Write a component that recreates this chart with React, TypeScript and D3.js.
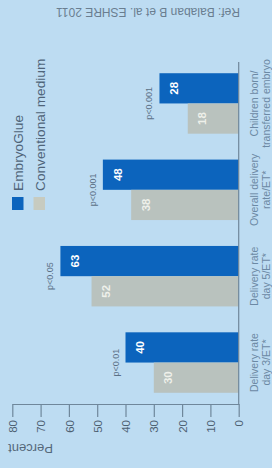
import React, { useEffect, useRef } from "react";
import * as d3 from "d3";

// chart values, bottom category first (the whole chart is turned on its side)
const categories = ["day3", "day5", "overall", "children"];
const categoryLines = [
  ["Delivery rate", "day 3/ET*"],
  ["Delivery rate", "day 5/ET*"],
  ["Overall delivery", "rate/ET*"],
  ["Children born/", "transferred embryo"],
];
const embryoGlue = [40, 63, 48, 28];
const conventional = [30, 52, 38, 18];
const pValues = ["p<0.01", "p<0.05", "p<0.001", "p<0.001"];
const tickValues = [0, 10, 20, 30, 40, 50, 60, 70, 80];
const seriesNames = ["EmbryoGlue", "Conventional medium"];

const FONT = "'Liberation Sans', Arial, sans-serif";

const App = () => {
  const svgRef = useRef<SVGSVGElement>(null);

  useEffect(() => {
    const width = 272,
      height = 468;
    const svg = d3.select(svgRef.current).attr("width", width).attr("height", height);
    svg.selectAll("*").remove();

    // light blue page
    svg.append("rect").attr("width", width).attr("height", height).attr("fill", "#bddcf2");

    // value axis runs right (0) to left (80)
    const x = d3.scaleLinear().domain([0, 80]).range([238.7, 12.3]);
    const y = d3.scaleBand().domain(categories).range([404, 62]).paddingInner(0.3).paddingOuter(0.13);
    const sub = d3.scaleBand().domain(["glue", "conv"]).range([0, y.bandwidth()]);

    const colors = { glue: "#0c64bd", conv: "#b9c2be" };

    const rows = categories.map((c, i) => ({
      cat: c,
      lines: categoryLines[i],
      p: pValues[i],
      values: [
        { key: "glue", v: embryoGlue[i] },
        { key: "conv", v: conventional[i] },
      ],
    }));

    // bars
    const groups = svg.selectAll(".cat").data(rows).join("g").attr("class", "cat")
      .attr("transform", d => `translate(0,${y(d.cat)})`);

    groups.selectAll("rect")
      .data(d => d.values)
      .join("rect")
      .attr("x", d => x(d.v))
      .attr("y", d => sub(d.key)!)
      .attr("width", d => x(0) - x(d.v))
      .attr("height", sub.bandwidth())
      .attr("fill", d => colors[d.key as "glue" | "conv"]);

    // numbers inside the bars
    groups.selectAll("text.val")
      .data(d => d.values)
      .join("text")
      .attr("class", "val")
      .attr("transform", d => `translate(${x(d.v) + 14.5},${sub(d.key)! + sub.bandwidth() / 2}) rotate(-90)`)
      .attr("text-anchor", "middle")
      .attr("dy", "0.36em")
      .attr("font-family", FONT)
      .attr("font-weight", "bold")
      .attr("font-size", 11.5)
      .attr("fill", d => (d.key === "glue" ? "#ffffff" : "#eef0ea"))
      .text(d => d.v);

    // p values above the EmbryoGlue bar
    groups.append("text")
      .attr("transform", d => `translate(${x(d.values[0].v) - 7},${y.bandwidth() / 2}) rotate(-90)`)
      .attr("text-anchor", "middle")
      .attr("font-family", FONT)
      .attr("font-size", 9)
      .attr("fill", "#5b7086")
      .text(d => d.p);

    // category labels, two lines each
    groups.each(function (d) {
      const g = d3.select(this);
      d.lines.forEach((line, j) => {
        g.append("text")
          .attr("transform", `translate(${257.5 + j * 12},${y.bandwidth() / 2}) rotate(-90)`)
          .attr("text-anchor", "middle")
          .attr("font-family", FONT)
          .attr("font-size", 10.5)
          .attr("fill", "#6c89a4")
          .text(line);
      });
    });

    // value axis along the bottom
    const axis = svg.append("g")
      .attr("transform", "translate(0,404)")
      .call(d3.axisBottom(x).tickValues(tickValues).tickSize(13).tickSizeOuter(0));
    axis.select(".domain").attr("stroke", "#6f879b").attr("stroke-width", 1.2);
    axis.selectAll(".tick line").attr("stroke", "#6f879b").attr("stroke-width", 1.2);
    axis.selectAll(".tick text")
      .attr("transform", "translate(0,16) rotate(-90)")
      .attr("y", 0)
      .attr("x", 0)
      .attr("dy", "0.36em")
      .attr("text-anchor", "end")
      .attr("font-family", FONT)
      .attr("font-size", 11.5)
      .attr("fill", "#4e6172");

    // category axis line
    svg.append("line")
      .attr("x1", x(0)).attr("x2", x(0))
      .attr("y1", 62).attr("y2", 404)
      .attr("stroke", "#6f879b")
      .attr("stroke-width", 1.2);

    // axis title (upside down)
    svg.append("text")
      .attr("transform", "translate(53,444) rotate(180)")
      .attr("font-family", FONT)
      .attr("font-size", 13)
      .attr("fill", "#55687a")
      .text("Percent");

    // legend
    const legend = svg.append("g");
    seriesNames.forEach((name, i) => {
      const lx = 12 + i * 21.5;
      legend.append("rect")
        .attr("x", lx).attr("y", 197)
        .attr("width", 11.5).attr("height", 13)
        .attr("fill", i === 0 ? "#0c64bd" : "#c7cbc0");
      legend.append("text")
        .attr("transform", `translate(${lx + 11},191) rotate(-90)`)
        .attr("font-family", FONT)
        .attr("font-size", 13.7)
        .attr("fill", "#4f6479")
        .text(name);
    });

    // reference note (upside down)
    svg.append("text")
      .attr("transform", "translate(240,8) rotate(180)")
      .attr("font-family", FONT)
      .attr("font-size", 12)
      .attr("fill", "#6a7e90")
      .text("Ref: Balaban B et al. ESHRE 2011");
  }, []);

  return <svg ref={svgRef} style={{ position: "absolute", left: 0, top: 0 }}></svg>;
};

export default App;
